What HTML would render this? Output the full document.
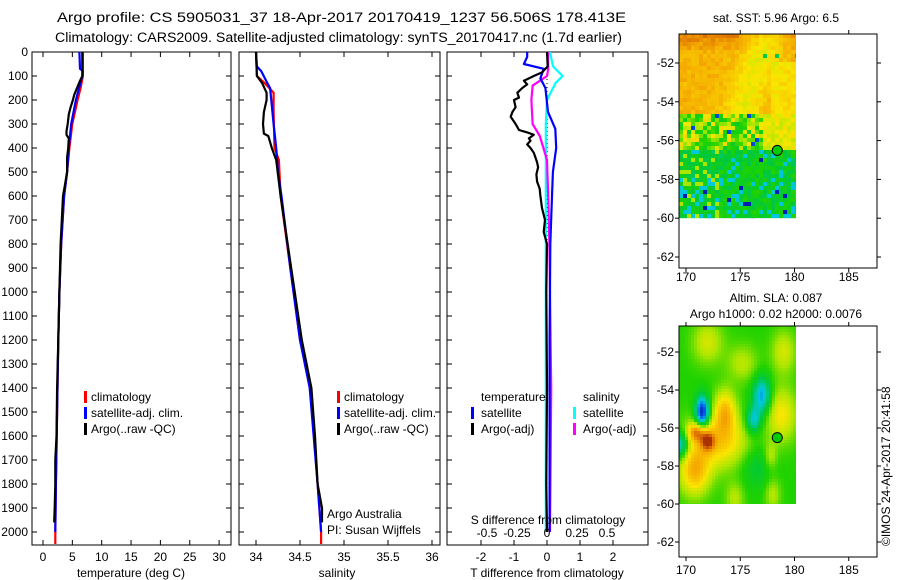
<!DOCTYPE html>
<html><head><meta charset="utf-8">
<style>
html,body{margin:0;padding:0;background:#fff;}
svg{display:block;font-family:"Liberation Sans",sans-serif;}
text{font-size:12px;fill:#000;}
</style></head>
<body>
<svg id="fig" width="900" height="580" viewBox="0 0 900 580">
<text x="57" y="22" textLength="569" lengthAdjust="spacingAndGlyphs" style="font-size:13.5px">Argo profile: CS 5905031_37 18-Apr-2017 20170419_1237 56.506S 178.413E</text>
<text x="55" y="42" textLength="567" lengthAdjust="spacingAndGlyphs" style="font-size:13.5px">Climatology: CARS2009. Satellite-adjusted climatology: synTS_20170417.nc (1.7d earlier)</text>
<g id="p1"></g>
<g id="p2"></g>
<g id="p3"></g>
<g id="m1"></g>
<g id="m2"></g>
<text x="776" y="22" text-anchor="middle">sat. SST: 5.96 Argo: 6.5</text>
<text x="776" y="302" text-anchor="middle">Altim. SLA: 0.087</text>
<text x="776" y="318" text-anchor="middle">Argo h1000: 0.02 h2000: 0.0076</text>
<text transform="translate(890,546) rotate(-90)">©IMOS 24-Apr-2017 20:41:58</text>
</svg>
<script>
// ---------- data ----------
const tClimDepth=[0,100,150,200,300,400,500,600,800,1000,1200,1500,1800,2000,2050];
const tClimVal=[6.8,6.8,6.4,5.9,5.0,4.5,4.1,3.6,3.1,2.8,2.6,2.4,2.2,2.1,2.1];
const tSatDepth=[0,70,80,100,200,300,400,500,600,800,1000,1200,1500,1800,2000];
const tSatVal=[6.2,6.3,6.8,6.7,5.6,4.8,4.4,4.1,3.6,3.1,2.8,2.6,2.4,2.2,2.1];
const tArgoDepth=[0,100,120,150,180,200,230,260,300,330,345,360,400,440,500,560,600,700,800,1000,1200,1400,1600,1700,1800,1900,1960];
const tArgoVal=[6.7,6.7,6.3,5.8,5.3,5.1,4.7,4.4,4.2,4.0,4.0,4.4,4.3,4.1,4.1,3.7,3.4,3.2,3.0,2.8,2.6,2.4,2.3,2.1,2.1,2.0,1.9];
const sClimDepth=[0,100,130,170,250,400,450,600,900,1200,1400,1800,2000,2050];
const sClimVal=[34.0,34.01,34.10,34.2,34.2,34.21,34.26,34.28,34.39,34.5,34.62,34.70,34.74,34.74];
const sSatDepth=[0,60,80,130,150,300,400,500,600,900,1200,1400,1800,2000];
const sSatVal=[34.0,34.01,34.06,34.13,34.16,34.2,34.23,34.25,34.29,34.39,34.5,34.61,34.7,34.74];
const sArgoDepth=[0,100,130,170,200,250,300,340,350,400,450,600,900,1200,1400,1600,1800,1900,1960];
const sArgoVal=[34.0,34.01,34.07,34.12,34.12,34.09,34.08,34.09,34.14,34.18,34.23,34.28,34.4,34.52,34.63,34.67,34.7,34.75,34.75];
const dTsatDepth=[0,20,50,70,110,150,250,320,400,500,600,800,1200,1600,2000];
const dTsatVal=[-0.6,-0.6,-0.7,-0.1,-0.2,-0.05,0.03,0.25,0.28,0.18,0.15,0.1,0.08,0.08,0.08];
const dTargoDepth=[0,60,85,100,110,120,135,150,170,190,200,230,250,270,290,300,325,335,345,360,370,385,400,420,440,460,480,510,540,570,600,650,700,750,800,1000,1400,1800,2000];
const dTargoVal=[0,0.02,-0.15,-0.4,-0.55,-0.7,-0.6,-0.75,-0.9,-0.85,-1.0,-0.95,-1.05,-1.1,-1.0,-0.95,-0.85,-0.6,-0.4,-0.55,-0.5,-0.6,-0.5,-0.4,-0.35,-0.3,-0.27,-0.32,-0.3,-0.22,-0.2,-0.15,-0.06,-0.1,0,-0.02,0,-0.02,0];
const dSsatDepth=[0,60,100,130,200,300,600,1000,1400,2000];
const dSsatVal=[0.025,0.05,0.13,0.07,0.0,-0.01,-0.01,-0.01,-0.01,-0.01];
const dSargoDepth=[0,70,100,120,140,200,300,350,450,600,800,1400,2000];
const dSargoVal=[0.01,0.01,0.0,-0.06,-0.12,-0.13,-0.12,-0.06,0.0,0.01,0.02,0.035,0.025];
const depthTicks=[0,100,200,300,400,500,600,700,800,900,1000,1100,1200,1300,1400,1500,1600,1700,1800,1900,2000];
const tempTicks=[0,5,10,15,20,25,30];
const salTicks=[34,34.5,35,35.5,36];
const salTickLabels=["34","34.5","35","35.5","36"];
const dTticks=[-2,-1,0,1,2];
const dSticks=[-0.5,-0.25,0,0.25,0.5];
const dSlabels=["-0.5","-0.25","0","0.25","0.5"];
const latTicks=[-52,-54,-56,-58,-60,-62];
const lonTicks=[170,175,180,185];
const argoLon=178.413, argoLat=-56.506;

const NS="http://www.w3.org/2000/svg";
function mk(parent,tag,attrs){const e=document.createElementNS(NS,tag);for(const k in attrs)e.setAttribute(k,attrs[k]);parent.appendChild(e);return e;}
const yD=d=>52+d*0.24;
const PT=52,PB=545;

function panel(g,x0,x1,xs,ticks,labels,showDepth){
  const r=mk(g,'rect',{x:x0,y:PT,width:x1-x0,height:PB-PT,fill:'none',stroke:'#000','stroke-width':1});
  
  
  ticks.forEach((t,i)=>{
    const x=xs(t);
    mk(g,'line',{x1:x,x2:x,y1:PT,y2:PT+5,stroke:'#000'});
    mk(g,'line',{x1:x,x2:x,y1:PB,y2:PB-5,stroke:'#000'});
    const tx=mk(g,'text',{x:x,y:561,'text-anchor':'middle'});tx.textContent=labels[i];
    
    
  });
  depthTicks.forEach(d=>{
    mk(g,'line',{x1:x0,x2:x0+5,y1:yD(d),y2:yD(d),stroke:'#000'});
    mk(g,'line',{x1:x1,x2:x1-5,y1:yD(d),y2:yD(d),stroke:'#000'});
    if(showDepth){const tx=mk(g,'text',{x:x0-4,y:yD(d)+4,'text-anchor':'end'});tx.textContent=d;
      
      }
  });
}
function line(g,ds,vs,xs,col,name,w){
  const pts=ds.map((d,i)=>xs(vs[i]).toFixed(1)+','+yD(d).toFixed(1)).join(' ');
  const p=mk(g,'polyline',{points:pts,fill:'none',stroke:col,'stroke-width':w||2.2,'stroke-linejoin':'round'});
  
  
}
function txt(g,x,y,s,name,anchor){const t=mk(g,'text',{x:x,y:y,'text-anchor':anchor||'start'});t.textContent=s;
  
  return t;}
function legbar(g,x,y,col){mk(g,'rect',{x:x,y:y-10,width:3,height:12,fill:col});}

// Panel 1
const p1=document.getElementById('p1');
const xT=v=>43+v*5.87;
panel(p1,32,231,xT,tempTicks,tempTicks.map(String),true);
line(p1,tClimDepth,tClimVal,xT,'#f00','temp-climatology-line');
line(p1,tSatDepth,tSatVal,xT,'#00f','temp-satellite-line');
line(p1,tArgoDepth,tArgoVal,xT,'#000','temp-argo-line');
legbar(p1,84,401,'#f00');txt(p1,91,401,'climatology','legend-climatology');
legbar(p1,84,417,'#00f');txt(p1,91,417,'satellite-adj. clim.','legend-satellite');
legbar(p1,84,433,'#000');txt(p1,91,433,'Argo(..raw -QC)','legend-argo');
txt(p1,131,577,'temperature (deg C)','x-axis-title-temperature','middle');

// Panel 2
const p2=document.getElementById('p2');
const xS=v=>256+(v-34)*88;
panel(p2,239,440,xS,salTicks,salTickLabels,false);
line(p2,sClimDepth,sClimVal,xS,'#f00','sal-climatology-line');
line(p2,sSatDepth,sSatVal,xS,'#00f','sal-satellite-line');
line(p2,sArgoDepth,sArgoVal,xS,'#000','sal-argo-line');
legbar(p2,337,401,'#f00');txt(p2,344,401,'climatology','legend-climatology');
legbar(p2,337,417,'#00f');txt(p2,344,417,'satellite-adj. clim.','legend-satellite');
legbar(p2,337,433,'#000');txt(p2,344,433,'Argo(..raw -QC)','legend-argo');
txt(p2,327,518,'Argo Australia','credit-argo-australia');
txt(p2,327,534,'PI: Susan Wijffels','credit-pi');
txt(p2,337,577,'salinity','x-axis-title-salinity','middle');

// Panel 3
const p3=document.getElementById('p3');
const xdT=v=>547+v*33;
const xdS=v=>547+v*120;
panel(p3,447,648,xdT,dTticks,dTticks.map(String),false);
mk(p3,'line',{x1:547,x2:547,y1:75,y2:500,stroke:'#000','stroke-dasharray':'1,3'});
line(p3,dSsatDepth,dSsatVal,xdS,'#0ff','dsal-satellite-line');
line(p3,dSargoDepth,dSargoVal,xdS,'#f0f','dsal-argo-line');
line(p3,dTsatDepth,dTsatVal,xdT,'#00f','dtemp-satellite-line');
line(p3,dTargoDepth,dTargoVal,xdT,'#000','dtemp-argo-line');
dSticks.forEach((t,i)=>txt(p3,xdS(t),537,dSlabels[i],'s-tick-label','middle'));
txt(p3,548,524,'S difference from climatology','s-axis-title','middle');
txt(p3,481,401,'temperature','legend-temperature-header');
txt(p3,583,401,'salinity','legend-salinity-header');
legbar(p3,471,417,'#00f');txt(p3,481,417,'satellite','legend-t-satellite');
legbar(p3,471,433,'#000');txt(p3,481,433,'Argo(-adj)','legend-t-argo');
legbar(p3,573,417,'#0ff');txt(p3,583,417,'satellite','legend-s-satellite');
legbar(p3,573,433,'#f0f');txt(p3,583,433,'Argo(-adj)','legend-s-argo');
txt(p3,547,577,'T difference from climatology','x-axis-title-tdiff','middle');

// ---------- maps ----------
const stops=[[0,[0,0,150]],[0.15,[0,90,230]],[0.28,[0,200,220]],[0.42,[0,200,60]],[0.52,[30,210,0]],[0.62,[170,230,0]],[0.72,[250,230,0]],[0.84,[245,170,0]],[0.93,[220,110,0]],[1,[170,50,0]]];
function cmap(v){v=Math.max(0,Math.min(1,v));for(let i=1;i<stops.length;i++){if(v<=stops[i][0]){const a=stops[i-1],b=stops[i];const f=(v-a[0])/(b[0]-a[0]);return 'rgb('+a[1].map((c,j)=>Math.round(c+(b[1][j]-c)*f)).join(',')+')';}}return 'rgb(170,50,0)';}
function hash(i,j){let h=(i*374761393+j*668265263)|0;h=(h^(h>>>13))*1274126177|0;return ((h^(h>>>16))>>>0)/4294967296;}

function drawMap(gid,top,bot,yOf52,ppl,fieldFn,cell,lonLabY){
  const g=document.getElementById(gid);
  const L=679,R=877,DR=796,DB=yOf52+8*ppl;
  const xL=lon=>686+(lon-170)*10.85;
  const yL=lat=>yOf52+(-52-lat)*ppl;
  for(let y=top,j=0;y<DB;y+=cell,j++){
    for(let x=L,i=0;x<DR;x+=cell,i++){
      const lon=170+(x+cell/2-686)/10.85, lat=-52-((y+cell/2)-yOf52)/ppl;
      const v=fieldFn(lon,lat,i,j);
      mk(g,'rect',{x:x,y:y,width:Math.min(cell,DR-x),height:Math.min(cell,DB-y),fill:cmap(v)});
    }
  }
  const fr=mk(g,'rect',{x:L,y:top,width:R-L,height:bot-top,fill:'none',stroke:'#000'});
  
  
  latTicks.forEach(la=>{const y=yL(la);
    mk(g,'line',{x1:L-4,x2:L,y1:y,y2:y,stroke:'#000'});
    mk(g,'line',{x1:R,x2:R+4,y1:y,y2:y,stroke:'#000'});
    txt(g,L-5,y+4,String(la),'lat-tick-label','end');});
  lonTicks.forEach(lo=>{const x=xL(lo);
    mk(g,'line',{x1:x,x2:x,y1:top-4,y2:top,stroke:'#000'});
    mk(g,'line',{x1:x,x2:x,y1:bot,y2:bot+4,stroke:'#000'});
    txt(g,x,lonLabY,String(lo),'lon-tick-label','middle');});
  const c=mk(g,'circle',{cx:xL(argoLon),cy:yL(argoLat),r:5,fill:'#0c0',stroke:'#000'});
  
  
}

function sstField(lon,lat,i,j){
  const r=hash(i,j), r2=hash(j+77,i+13);
  let v;
  if(lat>-54.6){
    v=0.82+0.09*Math.max(0,(lat+51.5))*(lon<175?1:0.6);
    const band=Math.exp(-Math.pow((lon-(176+(lat+53)*0.6)),2)/3);
    v-=0.12*band;
    if(lon>178&&lat<-52)v-=0.08;
    v+= (r-0.5)*0.06;
    if(r2<0.015&&lon>177)v=0.4;
  } else if(lat>-56.5){
    v=0.6+(r-0.5)*0.3; if(lon>177)v=0.7+(r-0.5)*0.1;
    if(r2<0.03)v=0.12;
  } else {
    const deep=Math.min(1,(-56.5-lat)/3.5);
    v=0.45+(r-0.5)*0.15;
    if(r<0.25*deep+0.05)v=0.28;
    if(r2<0.08*deep)v=0.05;
    if(lon<173&&r>0.8)v=0.62;
  }
  return v;
}
const slaBlobs=[[171.5,-55.2,-0.5,0.45,0.6],[169.5,-56.9,-0.3,0.5,0.5],[177,-54.3,-0.3,0.6,0.7],[176.2,-55.6,-0.25,0.5,0.5],
 [171,-56.2,0.3,0.6,0.35],[172,-56.7,0.28,0.45,0.35],[173,-56.7,0.25,2,1.0],[170.8,-58.3,0.28,1,0.9],[178.8,-55.3,0.2,1,1],
 [173.6,-55.1,0.25,0.7,0.8],[176.5,-58,-0.1,1,0.8],[172,-51.5,0.15,1,0.8],[175.2,-52.6,0.12,1,0.7],[179,-52,0.15,0.8,0.8],[174.5,-59.7,0.12,0.6,0.6],[178,-59.5,0.12,0.5,0.6],[177.8,-57.5,0.12,0.4,0.5]];
function slaField(lon,lat){
  let v=0.52;
  slaBlobs.forEach(b=>{v+=b[2]*Math.exp(-Math.pow((lon-b[0])/b[3],2)/2-Math.pow((lat-b[1])/b[4],2)/2);});
  return v;
}
drawMap('m1',34,268,63,19.4,sstField,4,281);
drawMap('m2',326,557,352,19.0,slaField,3,574);
</script>
</body></html>
